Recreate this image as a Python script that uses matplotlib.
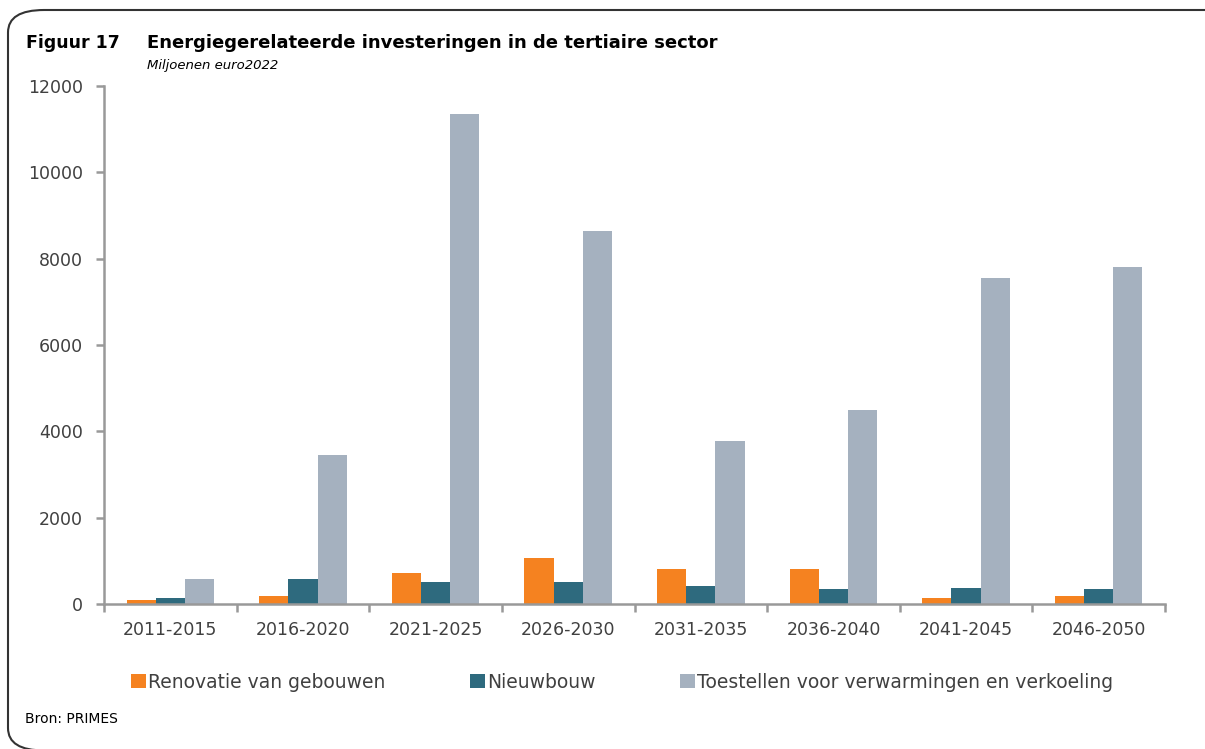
#!/usr/bin/env python3
# Energiegerelateerde investeringen in de tertiaire sector (Figuur 17)

import numpy as np
import matplotlib
matplotlib.use('Agg')
import matplotlib.pyplot as plt
from matplotlib.patches import FancyBboxPatch

periods = ['2011-2015', '2016-2020', '2021-2025', '2026-2030',
           '2031-2035', '2036-2040', '2041-2045', '2046-2050']
renovatie = [100, 185, 720, 1070, 820, 820, 150, 185]
nieuwbouw = [140, 580, 510, 500, 420, 350, 360, 350]
toestellen = [580, 3460, 11350, 8650, 3780, 4490, 7550, 7800]
series_names = ['Renovatie van gebouwen', 'Nieuwbouw',
                'Toestellen voor verwarmingen en verkoeling']
colors = ['#F58220', '#2E6A7E', '#A5B1BF']

plt.rcParams['font.family'] = ['DejaVu Sans']

W, H = 1205, 749
fig = plt.figure(figsize=(W / 100, H / 100), dpi=100)
ax = fig.add_axes([104 / W, 1 - 604 / H, 1061 / W, 518 / H])

x = np.arange(len(periods))
w = 0.22
for i, (vals, name, c) in enumerate(zip([renovatie, nieuwbouw, toestellen], series_names, colors)):
    ax.bar(x + (i - 1) * w, vals, w, color=c, label=name, edgecolor='none')

ax.set_xlim(-0.5, len(periods) - 0.5)
ax.set_ylim(0, 12000)
ax.set_yticks(range(0, 12001, 2000))
ax.set_xticks(x)
ax.set_xticklabels(periods)
ax.set_xticks(np.arange(-0.5, len(periods)), minor=True)
ax.tick_params(axis='x', which='major', length=0, pad=12, labelsize=12.5, labelcolor='#404040')
ax.tick_params(axis='x', which='minor', length=6, width=1.8, color='#999999')
ax.tick_params(axis='y', length=6, width=1.8, color='#999999', pad=9, labelsize=12.5, labelcolor='#404040')
for s in ['top', 'right']:
    ax.spines[s].set_visible(False)
for s in ['left', 'bottom']:
    ax.spines[s].set_color('#999999')
    ax.spines[s].set_linewidth(1.8)

fig.legend(loc='center', bbox_to_anchor=(622 / W, 1 - 682 / H), ncol=3, frameon=False,
           fontsize=13.5, handlelength=0.8, handleheight=0.8, handletextpad=0.1,
           columnspacing=4.5, labelcolor='#404040', borderaxespad=0, borderpad=0)

fig.text(26 / W, 1 - 43 / H, 'Figuur 17', fontsize=12.5, fontweight='bold', va='center')
fig.text(147 / W, 1 - 43 / H, 'Energiegerelateerde investeringen in de tertiaire sector',
         fontsize=13, fontweight='bold', va='center')
fig.text(147 / W, 1 - 66 / H, 'Miljoenen euro2022', fontsize=9.5, style='italic', va='center')
fig.text(25 / W, 1 - 719 / H, 'Bron: PRIMES', fontsize=10, va='center')

# rounded frame; bottom edge sits just below the picture, only the corner curve shows
frame = FancyBboxPatch((8 / W, -1.5 / H), 1.1, 1 - 8.5 / H,
                       boxstyle='round,pad=0,rounding_size=0.03',
                       transform=fig.transFigure, facecolor='none',
                       edgecolor='#333333', linewidth=1.5)
fig.patches.append(frame)

fig.savefig('out.png', dpi=100)
